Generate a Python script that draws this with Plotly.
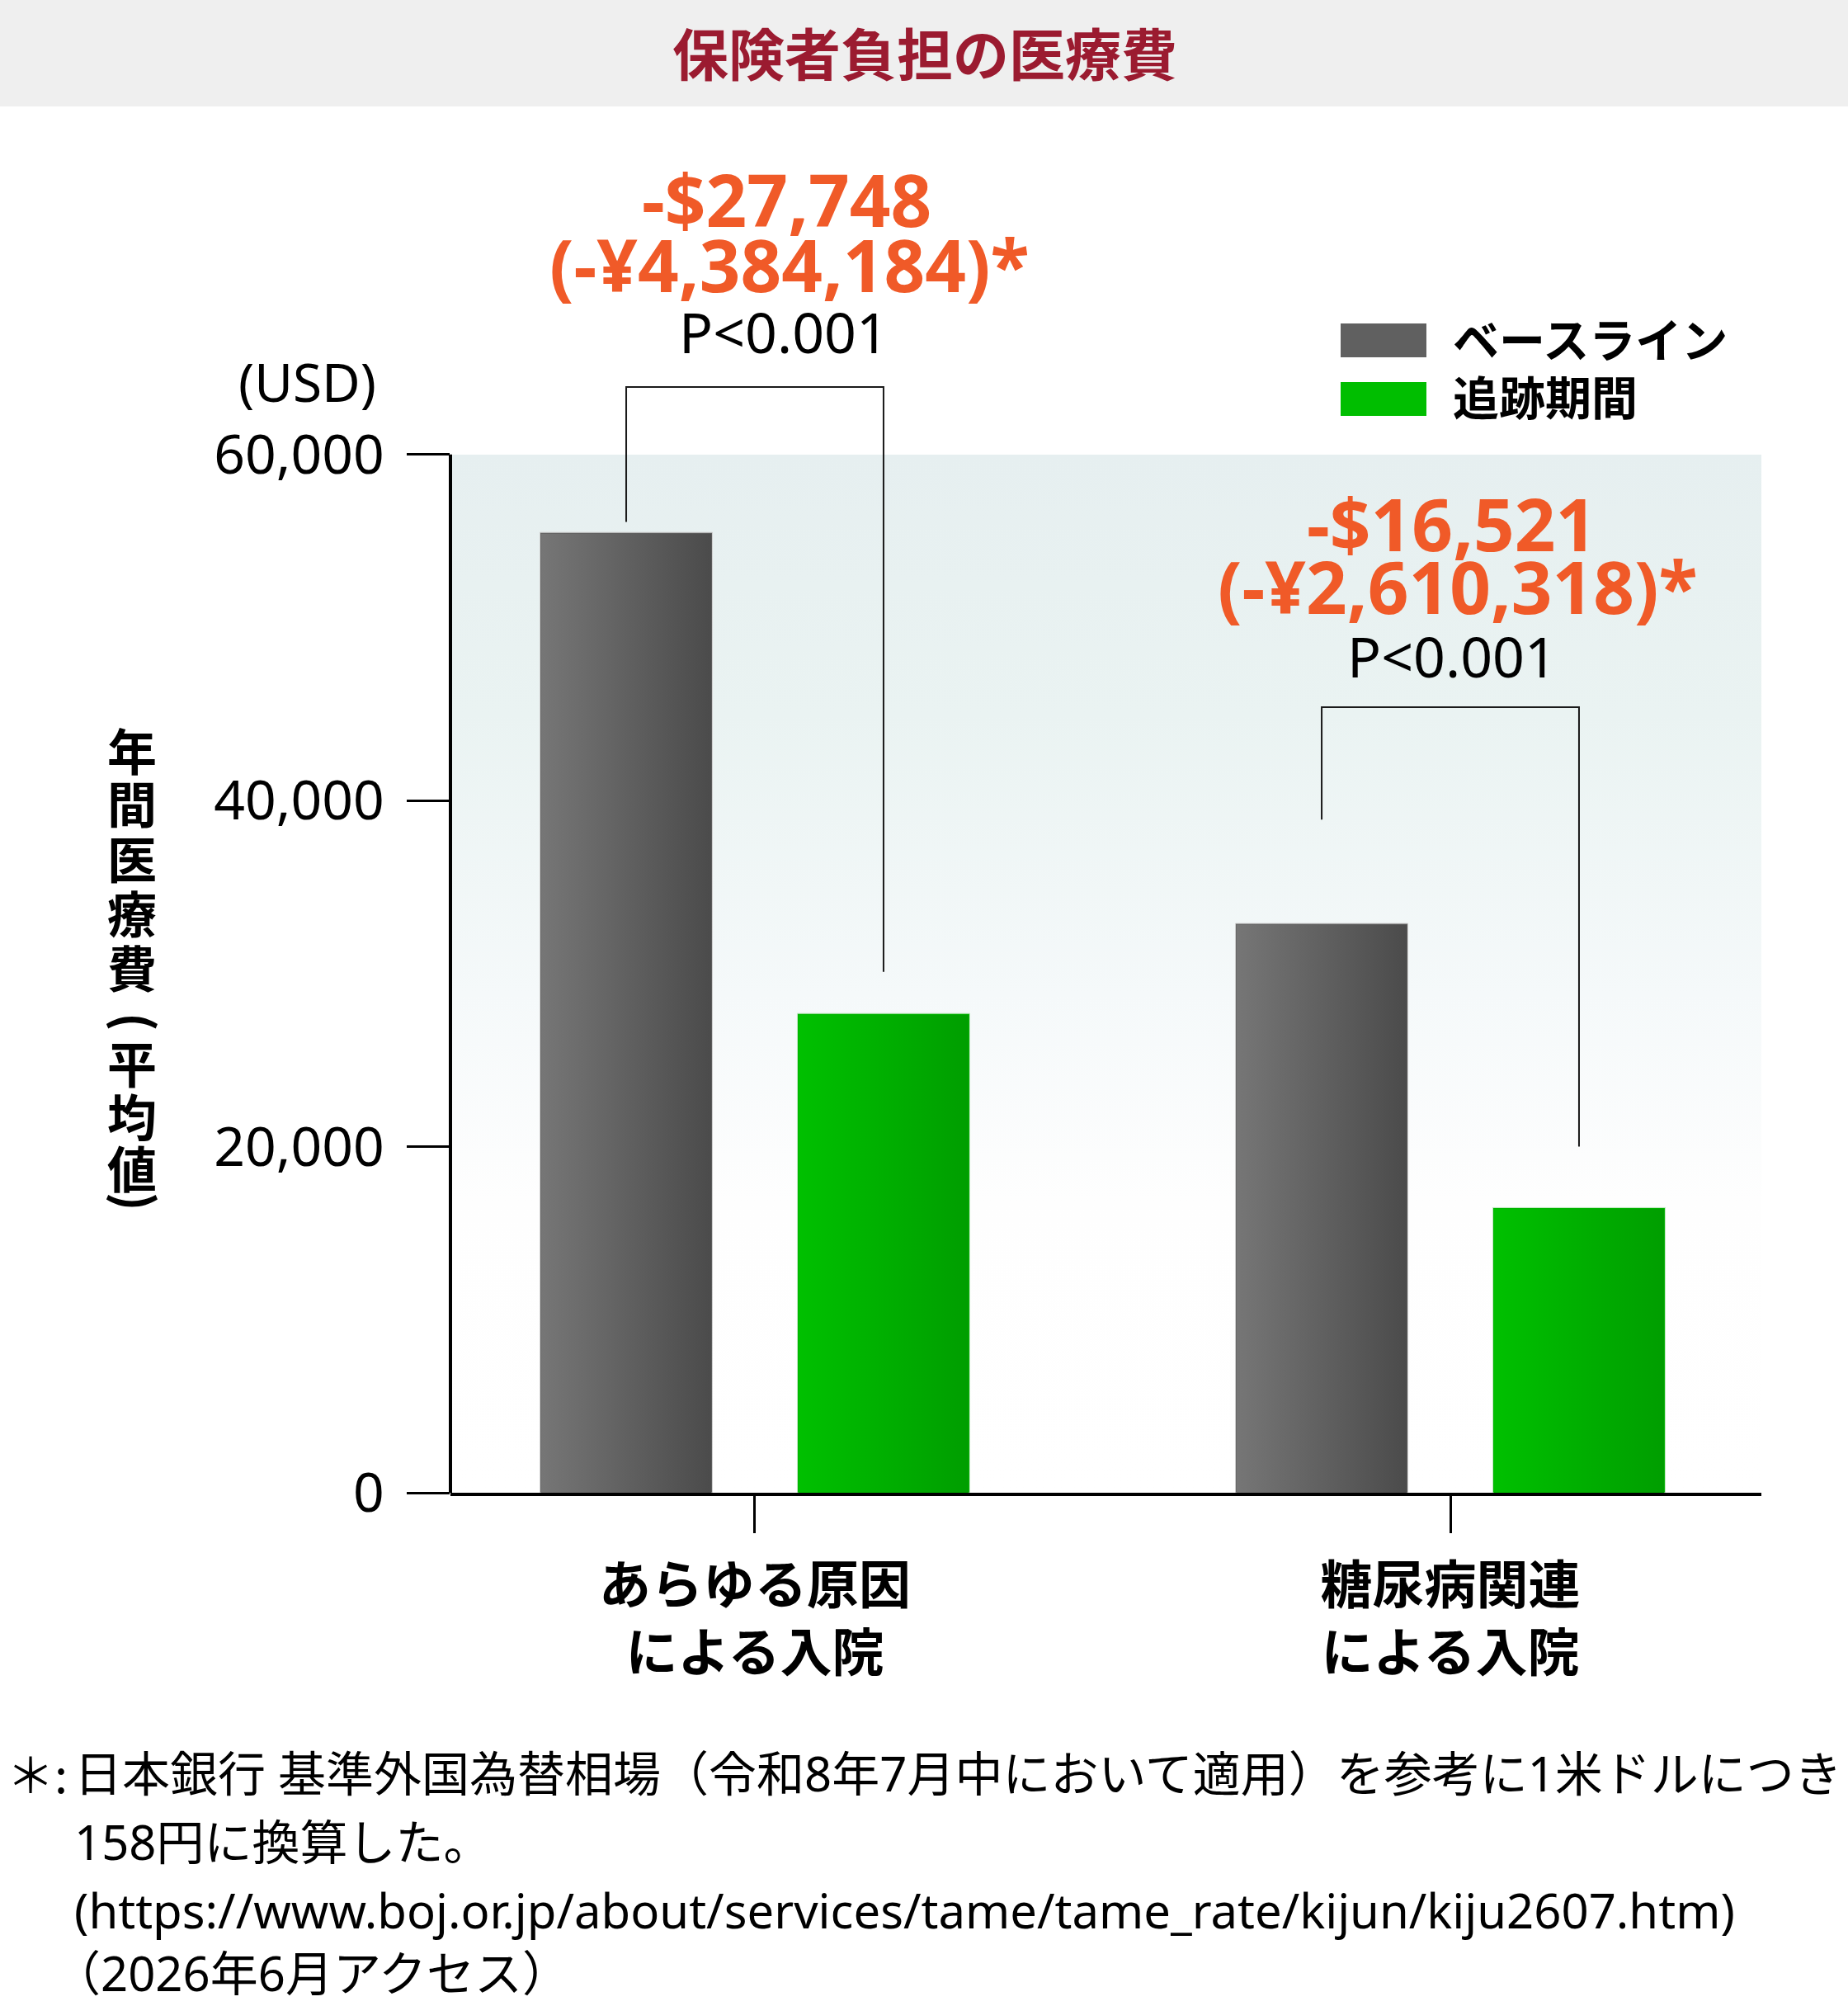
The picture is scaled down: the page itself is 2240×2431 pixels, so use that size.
import base64
import plotly.graph_objects as go

# ---------------- data ----------------
categories = ["あらゆる原因<br>による入院", "糖尿病関連<br>による入院"]
series_names = ["ベースライン", "追跡期間"]
baseline = [55500, 32900]
followup = [27700, 16480]
diff_usd = ["-$27,748", "-$16,521"]
diff_jpy = ["(-¥4,384,184)*", "(-¥2,610,318)*"]
p_values = ["P<0.001", "P<0.001"]
bracket_top = [63900, 45400]
bracket_left_end = [56100, 38900]
bracket_right_end = [30100, 20000]
y_tick_values = [0, 20000, 40000, 60000]
y_tick_labels = ["0", "20,000", "40,000", "60,000"]
y_title_chars = ["年", "間", "医", "療", "費", "(", "平", "均", "値", ")"]
title_text = "保険者負担の医療費"
unit_text = "(USD)"
footnote_mark = "＊:"
footnote_lines = [
    "日本銀行 基準外国為替相場（令和8年7月中において適用）を参考に1米ドルにつき",
    "158円に換算した。",
    "(https://www.boj.or.jp/about/services/tame/tame_rate/kijun/kiju2607.htm)",
    "（2026年6月アクセス）",
]

# ---------------- layout constants ----------------
W, H = 2240, 2431
L, R, T, B = 546, 2135, 425, 1809
PW, PH = R - L, B - T
YMAX = 66000
YTOP = 60000
XRANGE = [-0.4377, 1.4472]
BARGAP, BARGROUPGAP = 0.26, 0.33
SLOT = (1 - BARGAP) / 2
BARW = SLOT * (1 - BARGROUPGAP)

GRAY, GREEN = "#606060", "#00B400"
ORANGE = "#F05A28"
TITLE_RED = "#9B1B30"
CJK = "Noto Sans CJK JP"
LAT = "Noto Sans, Noto Sans CJK JP"


def PX(px):
    return (px - L) / PW


def PY(py):
    return (B - py) / PH


def svg_uri(svg):
    return "data:image/svg+xml;base64," + base64.b64encode(svg.encode()).decode()


def hgrad(c0, c1):
    return svg_uri(
        '<svg xmlns="http://www.w3.org/2000/svg" width="100" height="100" viewBox="0 0 100 100" preserveAspectRatio="none">'
        '<defs><linearGradient id="g" x1="0" y1="0" x2="1" y2="0">'
        f'<stop offset="0" stop-color="{c0}"/><stop offset="1" stop-color="{c1}"/>'
        '</linearGradient></defs><rect x="0" y="0" width="100" height="100" fill="url(#g)"/></svg>'
    )


bg_uri = svg_uri(
    '<svg xmlns="http://www.w3.org/2000/svg" width="100" height="100" viewBox="0 0 100 100" preserveAspectRatio="none">'
    '<defs><linearGradient id="g" x1="0" y1="0" x2="0" y2="1">'
    '<stop offset="0" stop-color="#E6EFF0"/><stop offset="0.25" stop-color="#EAF3F2"/>'
    '<stop offset="0.52" stop-color="#F5F9FA"/><stop offset="0.72" stop-color="#FEFEFE"/>'
    '<stop offset="1" stop-color="#FFFFFF"/>'
    '</linearGradient></defs><rect x="0" y="0" width="100" height="100" fill="url(#g)"/></svg>'
)

xpos = list(range(len(categories)))

fig = go.Figure()
fig.add_trace(go.Bar(x=xpos, y=baseline, name=series_names[0],
                     marker=dict(color=GRAY, line=dict(color="#D0D0D0", width=1))))
fig.add_trace(go.Bar(x=xpos, y=followup, name=series_names[1],
                     marker=dict(color=GREEN, line=dict(color="#C8E8C8", width=1))))

images = [dict(source=bg_uri, xref="paper", yref="paper", x=PX(548), y=YTOP / YMAX,
               sizex=PX(R) - PX(548), sizey=YTOP / YMAX, xanchor="left", yanchor="top",
               sizing="stretch", layer="below")]
grads = [("#767676", "#4B4B4B"), ("#00C000", "#009E00")]
for k, vals in enumerate([baseline, followup]):
    for g, v in zip(xpos, vals):
        c = g + (k - 0.5) * SLOT
        images.append(dict(source=hgrad(*grads[k]), xref="x", yref="y", x=c - BARW / 2 + 0.0012,
                           y=v - 60, sizex=BARW - 0.0024, sizey=v - 60, xanchor="left",
                           yanchor="top", sizing="stretch", layer="above"))

shapes = []
# title band
shapes.append(dict(type="rect", xref="paper", yref="paper", x0=PX(0), x1=PX(W), y0=PY(129), y1=PY(0),
                   fillcolor="#EFEFEF", line=dict(width=0), layer="below"))
# y axis line (stops at the top tick)
shapes.append(dict(type="line", xref="paper", yref="paper", x0=0, x1=0, y0=0, y1=YTOP / YMAX,
                   line=dict(color="black", width=4)))
# significance brackets
for g, top, le, re in zip(xpos, bracket_top, bracket_left_end, bracket_right_end):
    xl, xr = g - SLOT / 2, g + SLOT / 2
    shapes.append(dict(type="path", xref="x", yref="y",
                       path=f"M {xl},{le} L {xl},{top} L {xr},{top} L {xr},{re}",
                       line=dict(color="#1a1a1a", width=2)))
# legend swatches
for (y0, y1), col in zip([(392, 433), (463, 504)], [GRAY, "#00BE00"]):
    shapes.append(dict(type="rect", xref="paper", yref="paper", x0=PX(1625), x1=PX(1729),
                       y0=PY(y1), y1=PY(y0), fillcolor=col, line=dict(width=0)))

ann = []


def add_text(text, px, py, size, color="black", family=CJK, weight="normal", xanchor="center",
             angle=0):
    ann.append(dict(text=text, x=PX(px), y=PY(py), xref="paper", yref="paper", showarrow=False,
                    xanchor=xanchor, yanchor="middle", textangle=angle,
                    font=dict(family=family, size=size, color=color, weight=weight)))


add_text(title_text, 1121, 62, 68, TITLE_RED, CJK, "bold")
add_text(unit_text, 372, 463, 64, "black", LAT)

ann_pos = [((953, 241), (957, 320), (950, 402)), ((1759, 634), (1767, 710), (1760, 794))]
for i in range(len(categories)):
    add_text(diff_usd[i], *ann_pos[i][0], 87, ORANGE, LAT, "bold")
    add_text(diff_jpy[i], *ann_pos[i][1], 87, ORANGE, LAT, "bold")
    add_text(p_values[i], *ann_pos[i][2], 68, "black", LAT)

for name, py in zip(series_names, [408, 479]):
    add_text(name, 1759, py, 56, "black", CJK, "bold", "left")

# vertical y-axis title (upright characters, rotated brackets)
y_title_pos = [907, 971, 1038, 1104, 1170, 1238, 1286, 1350, 1413, 1456]
for ch, py in zip(y_title_chars, y_title_pos):
    if ch in "()":
        add_text(ch, 168, py, 60, "black", CJK, "bold", angle=90)
    else:
        add_text(ch, 160, py, 60, "black", CJK, "bold")

add_text(footnote_mark, 6, 2148, 58, "black", CJK, "normal", "left")
for i, (line, py) in enumerate(zip(footnote_lines, [2148, 2231, 2314, 2390])):
    add_text(line, 62 if i == 3 else 88, py, 58, "black", LAT, "normal", "left")

fig.update_layout(
    width=W, height=H,
    margin=dict(l=L, r=W - R, t=T, b=H - B, pad=0),
    paper_bgcolor="white", plot_bgcolor="rgba(0,0,0,0)",
    barmode="group", bargap=BARGAP, bargroupgap=BARGROUPGAP,
    showlegend=False,
    images=images, shapes=shapes, annotations=ann,
    xaxis=dict(type="linear", range=XRANGE, tickvals=xpos, ticktext=categories,
               showgrid=False, zeroline=False, showline=True, linecolor="black", linewidth=4,
               ticks="outside", ticklen=45, tickwidth=3, tickcolor="black",
               ticklabelstandoff=9,
               tickfont=dict(family=CJK, size=63, color="black", weight="bold")),
    yaxis=dict(range=[0, YMAX], tickvals=y_tick_values, ticktext=y_tick_labels,
               showgrid=False, zeroline=False, showline=False,
               ticks="outside", ticklen=52, tickwidth=3, tickcolor="black",
               ticklabelstandoff=14,
               tickfont=dict(family=LAT, size=66, color="black")),
)

fig.write_html("out.html")
